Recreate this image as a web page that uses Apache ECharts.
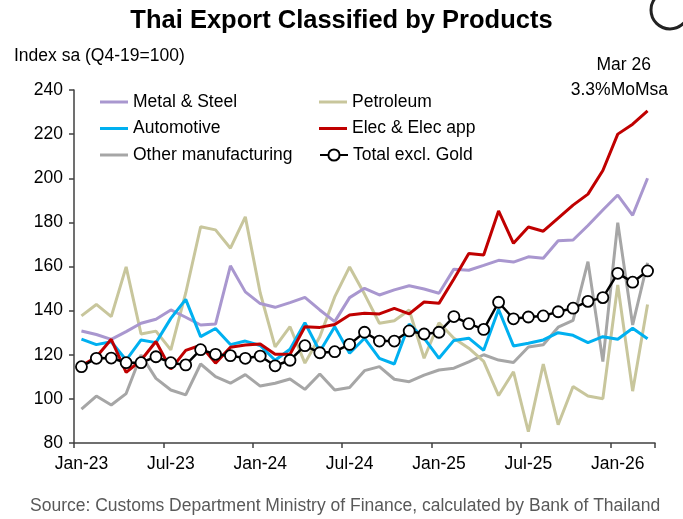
<!DOCTYPE html>
<html>
<head>
<meta charset="utf-8">
<title>Thai Export Classified by Products</title>
<script src="https://cdn.jsdelivr.net/npm/echarts@6.0.0/dist/echarts.min.js"></script>
<style>
  html, body { margin: 0; padding: 0; background: #fff; }
  #chart { width: 683px; height: 519px; }
</style>
</head>
<body>
<div id="chart"></div>
<script>
// monthly, Jan-23 .. Mar-26 (index sa, Q4-19 = 100)
const months = [
  "Jan-23", "Feb-23", "Mar-23", "Apr-23", "May-23", "Jun-23", "Jul-23", "Aug-23", "Sep-23", "Oct-23", "Nov-23", "Dec-23",
  "Jan-24", "Feb-24", "Mar-24", "Apr-24", "May-24", "Jun-24", "Jul-24", "Aug-24", "Sep-24", "Oct-24", "Nov-24", "Dec-24",
  "Jan-25", "Feb-25", "Mar-25", "Apr-25", "May-25", "Jun-25", "Jul-25", "Aug-25", "Sep-25", "Oct-25", "Nov-25", "Dec-25",
  "Jan-26", "Feb-26", "Mar-26"
];

const metalSteel = [130.8, 129.2, 127, 130.5, 134.3, 136.1, 140.3, 137, 133.5, 133.9, 160.3, 148.5,
  143.2, 141.5, 143.6, 146, 140.3, 135, 145.9, 150.1, 147.1, 149.4, 151.3, 149.8,
  147.9, 158.8, 158.3, 160.5, 162.8, 162, 164.4, 163.7, 171.7, 172, 178.6, 185.6,
  192.4, 183.2, 200];

const petroleum = [137.6, 142.8, 137.3, 159.8, 129.4, 130.7, 122.2, 148, 178, 176.6, 168.3, 182.5,
  148, 123.6, 132.7, 116.2, 128.2, 146.2, 159.8, 147.5, 134.3, 135.4, 140.3, 118.4,
  134.5, 127.5, 123, 117, 101.5, 112.3, 85.1, 115.8, 88.3, 105.6, 101.3, 100.1,
  151.6, 103.5, 142.8];

const automotive = [127.1, 124.6, 125.9, 117.6, 126.7, 125.5, 136.5, 145.1, 128.2, 131.9, 124.6, 126.2,
  124.2, 117.5, 122.5, 134.5, 121.5, 132.7, 120.7, 127.5, 118.4, 115.8, 133.9, 127.5,
  118.4, 126.5, 127.5, 122, 140.5, 124, 125.2, 126.7, 130, 128.8, 125.5, 128.2,
  127, 132, 127.3];

const elecApp = [115, 119, 127, 112, 117.5, 126, 113.5, 122, 124.3, 116.2, 123.4, 124.4,
  124.9, 120.2, 120.2, 132.7, 132.4, 133.7, 138, 138.8, 138.5, 141, 138.5, 143.9,
  143.3, 154.3, 165.9, 165.2, 185.2, 170.5, 177.9, 176, 181.9, 187.8, 192.8, 203.5,
  220, 224.5, 230.5];

const otherManuf = [95.4, 101.3, 97.2, 102.4, 119.9, 109.3, 104, 101.8, 115.8, 110.1, 107.1, 111,
  105.8, 107.1, 109, 104.3, 111.3, 104, 105.2, 112.8, 114.6, 108.9, 107.8, 110.8,
  113.1, 113.9, 116.8, 120, 117.6, 116.5, 123.5, 124.5, 132.5, 135.6, 162.2, 116.9,
  179.9, 133.5, 161.7];

const totalExGold = [114.6, 118.4, 118.5, 116.4, 116.4, 119.1, 116.4, 115.4, 122.3, 120.2, 119.6, 118.4,
  119.4, 115.0, 117.5, 124.1, 120.9, 121.4, 124.7, 130.2, 126.2, 126.2, 130.8, 129.4,
  130.2, 137.3, 134.1, 131.5, 143.8, 136.3, 137.1, 137.6, 139.5, 141.1, 144.2, 145.9,
  156.9, 152.9, 158.0];

const yTicks = { min: 80, max: 240, step: 20 };

const FONT = "'Liberation Sans', Arial, sans-serif";
const FS = 17.5;

const chart = echarts.init(document.getElementById("chart"));

const plainLine = (name, data, color) => ({
  name: name,
  type: "line",
  data: data,
  symbol: "none",
  lineStyle: { color: color, width: 3 },
  itemStyle: { color: color },
  emphasis: { disabled: true },
});

// legend rows sit ~26.5px apart
const legendBase = {
  orient: "vertical",
  top: 93,
  padding: 0,
  itemWidth: 28,
  itemHeight: 3,
  itemGap: 8.5,
  icon: "rect",
  selectedMode: false,
  textStyle: { fontFamily: FONT, fontSize: FS, color: "#000", lineHeight: 18 },
};

const option = {
  animation: false,
  backgroundColor: "#fff",
  title: {
    text: "Thai Export Classified by Products",
    left: "center",
    top: 3,
    textStyle: { fontFamily: FONT, fontSize: 25.5, fontWeight: "bold", color: "#000" },
  },
  legend: [
    Object.assign({}, legendBase, {
      left: 100,
      data: ["Metal & Steel", "Automotive", "Other manufacturing"],
    }),
    Object.assign({}, legendBase, {
      left: 319,
      data: ["Petroleum", "Elec & Elec app"],
    }),
    Object.assign({}, legendBase, {
      left: 319,
      top: 146,
      icon: null,
      itemHeight: 14,
      data: ["Total excl. Gold"],
    }),
  ],
  grid: {
    left: 74,
    right: 28,
    top: 90,
    bottom: 76,
    containLabel: false,
  },
  xAxis: {
    type: "category",
    data: months,
    boundaryGap: true,
    axisLine: { show: true, lineStyle: { color: "#404040", width: 1.5 } },
    axisTick: { show: true, interval: 5, length: 5, lineStyle: { color: "#404040", width: 1.5 } },
    axisLabel: {
      interval: 5,
      margin: 12,
      fontFamily: FONT,
      fontSize: FS,
      color: "#000",
    },
    splitLine: { show: false },
  },
  yAxis: {
    type: "value",
    min: yTicks.min,
    max: yTicks.max,
    interval: yTicks.step,
    axisLine: { show: true, lineStyle: { color: "#404040", width: 1.5 } },
    axisTick: { show: true, length: 5, lineStyle: { color: "#404040", width: 1.5 } },
    axisLabel: { margin: 11, fontFamily: FONT, fontSize: FS, color: "#000" },
    splitLine: { show: false },
  },
  graphic: [
    {
      type: "text",
      left: 14,
      top: 47,
      style: { text: "Index sa (Q4-19=100)", fontFamily: FONT, fontSize: FS, fill: "#000" },
    },
    {
      type: "text",
      right: 32,
      top: 56,
      style: { text: "Mar 26", fontFamily: FONT, fontSize: FS, fill: "#000" },
    },
    {
      type: "text",
      right: 15,
      top: 81,
      style: { text: "3.3%MoMsa", fontFamily: FONT, fontSize: FS, fill: "#000" },
    },
    {
      type: "text",
      left: 30,
      top: 497,
      style: {
        text: "Source: Customs Department Ministry of Finance, calculated by Bank of Thailand",
        fontFamily: FONT,
        fontSize: FS,
        fill: "#595959",
      },
    },
    // logo corner
    {
      type: "circle",
      shape: { cx: 670, cy: 10, r: 19 },
      style: { fill: "none", stroke: "#222", lineWidth: 3 },
    },
  ],
  series: [
    plainLine("Other manufacturing", otherManuf, "#a6a6a6"),
    plainLine("Petroleum", petroleum, "#c8c69c"),
    plainLine("Metal & Steel", metalSteel, "#a997cf"),
    plainLine("Automotive", automotive, "#00b0f0"),
    plainLine("Elec & Elec app", elecApp, "#c00000"),
    {
      name: "Total excl. Gold",
      type: "line",
      data: totalExGold,
      symbol: "circle",
      symbolSize: 11,
      showAllSymbol: true,
      lineStyle: { color: "#000", width: 2.5 },
      itemStyle: { color: "#fff", borderColor: "#000", borderWidth: 1.8 },
      emphasis: { disabled: true },
      z: 5,
    },
  ],
};

chart.setOption(option);

window.addEventListener("resize", () => chart.resize());
</script>
</body>
</html>
